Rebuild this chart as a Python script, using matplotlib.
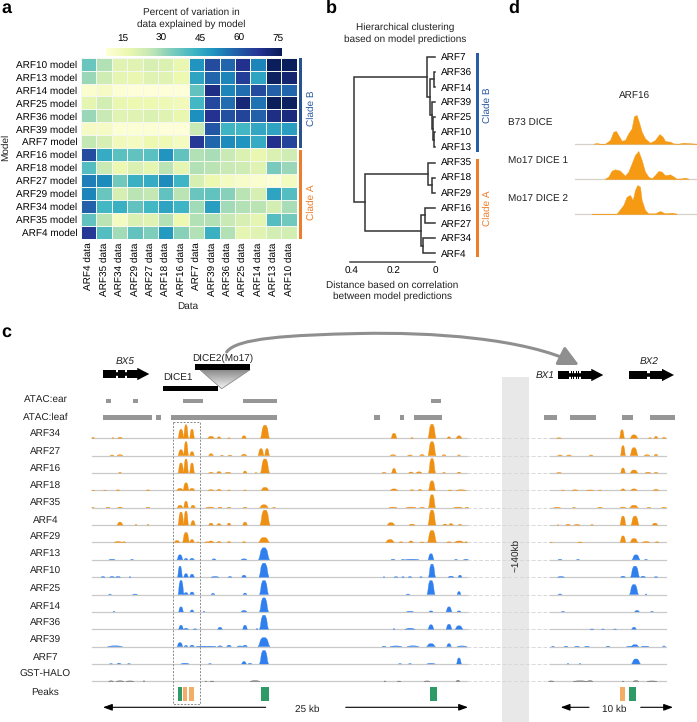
import numpy as np
import matplotlib
matplotlib.use("Agg")
import matplotlib.pyplot as plt
from matplotlib.patches import Rectangle, Polygon, FancyArrowPatch
from matplotlib.path import Path

plt.rcParams["font.family"] = ["Liberation Sans", "DejaVu Sans"]
plt.rcParams["text.color"] = "#222222"
plt.rcParams["text.hinting"] = "no_hinting"
plt.rcParams["text.hinting_factor"] = 1
W, H = 697, 722
FS = 6.85

# panel a: percent of variation explained
data_labels = ["ARF4", "ARF35", "ARF34", "ARF29", "ARF27", "ARF18", "ARF16",
               "ARF7", "ARF39", "ARF36", "ARF25", "ARF14", "ARF13", "ARF10"]
model_labels = ["ARF10", "ARF13", "ARF14", "ARF25", "ARF36", "ARF39", "ARF7",
                "ARF16", "ARF18", "ARF27", "ARF29", "ARF34", "ARF35", "ARF4"]
variation = np.array([
    [37, 28, 20, 20, 22, 21, 18, 50, 63, 58, 69, 53, 76, 76],
    [31, 24, 19, 18, 20, 20, 17, 47, 58, 53, 66, 47, 75, 73],
    [11, 13, 10, 9, 9, 9, 9, 38, 70, 53, 57, 63, 59, 58],
    [19, 23, 18, 17, 17, 16, 15, 42, 64, 57, 72, 56, 76, 75],
    [31, 25, 20, 20, 21, 20, 18, 51, 68, 62, 65, 59, 70, 71],
    [13, 13, 10, 10, 10, 9, 9, 25, 61, 43, 42, 46, 47, 48],
    [26, 22, 15, 14, 17, 16, 14, 67, 58, 52, 50, 45, 69, 65],
    [63, 45, 39, 38, 39, 50, 38, 28, 29, 25, 21, 18, 21, 24],
    [40, 25, 17, 21, 19, 27, 19, 28, 27, 25, 24, 20, 35, 31],
    [54, 52, 36, 44, 45, 52, 43, 22, 17, 14, 12, 11, 10, 14],
    [53, 37, 22, 27, 26, 38, 27, 37, 38, 33, 27, 22, 47, 40],
    [59, 42, 44, 38, 42, 47, 43, 30, 48, 30, 28, 27, 23, 29],
    [38, 27, 14, 21, 20, 28, 17, 28, 28, 25, 22, 19, 40, 36],
    [67, 40, 30, 38, 34, 49, 33, 28, 44, 28, 19, 20, 23, 23],
])
cbar_ticks = [15, 30, 45, 60, 75]

# panel b: leaves and merges (child a, child b, distance)
leaves = ["ARF7", "ARF36", "ARF14", "ARF39", "ARF25", "ARF10", "ARF13",
          "ARF35", "ARF18", "ARF29", "ARF16", "ARF27", "ARF34", "ARF4"]
merges = [("ARF36", "ARF14", 0.005), ("ARF10", "ARF13", 0.006),
          ("ARF25", "n1", 0.008), ("ARF39", "n2", 0.016),
          ("n0", "n3", 0.024), ("ARF7", "n4", 0.040),
          ("ARF18", "ARF29", 0.016), ("ARF35", "n6", 0.035),
          ("ARF16", "ARF27", 0.048), ("ARF34", "ARF4", 0.060),
          ("n8", "n9", 0.067), ("n7", "n10", 0.339), ("n5", "n11", 0.392)]

# panel d: ARF16 signal at the DICE locus
d_pos_b73 = [790, 800, 810, 825, 840, 850, 858, 865, 875, 885, 895, 905, 912, 920, 928, 935,
             945, 960, 975, 988, 998, 1005, 1020, 1030, 1045, 1060, 1085, 1100]
d_sig_b73 = [0, 2, 0, 0, 11, 36, 38, 26, 9, 11, 31, 46, 83, 86, 61, 36,
             16, 3, 11, 29, 21, 8, 6, 1, 0, 3, 1, 0]
d_pos_mo1 = [825, 835, 845, 855, 870, 885, 895, 905, 915, 925, 935, 945,
             955, 965, 975, 985, 995, 1005, 1020, 1030, 1040, 1055, 1065, 1075]
d_sig_mo1 = [1, 7, 25, 29, 25, 10, 22, 47, 72, 84, 57, 22,
             7, 2, 12, 24, 22, 11, 14, 8, 1, 2, 4, 1]
d_pos_mo2 = [785, 800, 860, 870, 880, 890, 900, 908, 915, 922, 930, 935,
             945, 955, 975, 990, 1005, 1025, 1040]
d_sig_mo2 = [1, 1, 1, 14, 27, 52, 57, 42, 72, 87, 82, 42,
             12, 2, 2, 9, 2, 4, 1]

# panel c: ATAC intervals and peak calls (start, end)
atac_ear = [(106, 111), (133.3, 138.3), (183.3, 202.7), (243, 276.7), (430.7, 441)]
atac_leaf = [(103.3, 151.7), (156.3, 161.3), (171, 276.7), (374.3, 379.7), (400, 404.3),
             (414, 442), (544, 557), (569.7, 596.3), (621.7, 632.7), (650, 674.7)]
peaks_green = [(178, 181.7), (260.7, 268.7), (430, 436.7), (629, 635.7)]
peaks_orange = [(183, 187), (189, 193.7), (620.3, 625)]

# panel c: signal tracks as (centre, width, height)
ARF34 = [(93, 3, 1), (113, 2, .7), (120, 5, 1), (181, 6, 9), (186, 5, 13.5), (192, 5, 9), (211, 7, 2), (219, 4, 1.5),
         (229, 3, .5), (244, 5, 2.5), (265, 9, 13), (394, 6, 5), (412, 3, .7), (432, 8, 14), (449, 4, 1.5), (459, 6, 2.5),
         (559, 5, .5), (622, 5, 8.5), (634, 8, 3.5), (650, 3, .7), (656, 4, 2), (664, 4, 1)]
ARF27 = [(112, 4, .7), (120, 6, 1), (181, 6, 6), (186, 5, 14), (192, 5, 4), (211, 5, 2), (222, 3, .5), (230, 4, .5),
         (244, 6, 1.5), (261, 6, 7), (267, 5, 7), (393, 6, 1), (410, 5, .7), (422, 5, 1.2), (432, 8, 14), (444, 4, 1),
         (459, 3, .8), (560, 5, .7), (569, 5, .7), (591, 4, .7), (623, 5, 10), (634, 8, 8), (647, 6, 1), (656, 4, 1.5)]
ARF16 = [(120, 3, .7), (181, 6, 10), (186, 5, 14), (192, 5, 10), (211, 5, .7), (219, 5, 1.5), (228, 6, .7), (245, 4, 2),
         (256, 2, .5), (265, 9, 14), (384, 4, .7), (394, 5, 4.5), (411, 5, 1), (419, 6, 1.2), (432, 7, 14.5), (444, 3, .6),
         (459, 4, .8), (559, 5, .5), (623, 5, 5), (634, 8, 3), (648, 6, .7), (656, 4, .7)]
ARF18 = [(93, 3, .3), (105, 3, .3), (118, 4, .5), (148, 4, .5), (180, 7, 2), (186, 6, 7.5), (192, 6, 2), (211, 6, .7),
         (219, 5, 1), (229, 3, .4), (245, 3, .4), (265, 8, 3), (394, 8, 1.5), (412, 4, .7), (420, 4, 1), (432, 7, 9.5),
         (450, 4, .4), (461, 10, .6), (563, 3, .3), (575, 6, .6), (590, 8, .4), (600, 3, .4), (623, 5, 1.5), (634, 7, 1.5), (656, 6, 1)]
ARF35 = [(93, 3, .3), (108, 4, .5), (120, 5, .7), (148, 4, .5), (180, 6, 2.5), (186, 5, 6.5), (193, 5, 2.5), (210, 8, .7),
         (220, 4, .7), (229, 4, .5), (245, 4, .5), (264, 9, 3), (274, 3, .5), (393, 8, .7), (411, 10, .7), (422, 5, .5),
         (432, 7, 13), (458, 9, .7), (467, 4, .5), (557, 7, .5), (574, 3, .5), (600, 5, .5), (623, 6, .7), (634, 9, 2.5),
         (649, 4, .5), (664, 5, .5)]
ARF4 = [(120, 6, 3), (136, 2, .7), (148, 2, .7), (181, 6, 13), (186, 5, 14), (193, 5, 4.5), (211, 5, 2), (219, 5, 1.5),
        (229, 4, 2), (245, 5, 3), (265, 10, 15), (391, 8, 2.5), (412, 6, 1), (432, 8, 15), (445, 5, 1), (451, 5, 1.5),
        (460, 4, .7), (558, 2, .3), (568, 5, .8), (577, 6, .7), (592, 3, .5), (623, 6, 9), (635, 8, 9), (655, 6, 2)]
ARF29 = [(118, 8, 1), (124, 4, .7), (177, 6, 2), (186, 7, 10), (192, 5, 3), (198, 3, .5), (207, 5, .7), (211, 6, 1.5),
         (219, 5, 1), (229, 4, 1), (244, 4, .8), (264, 11, 5), (390, 9, 3), (401, 4, .7), (411, 5, 1.5), (422, 4, .5),
         (432, 9, 12), (449, 5, .7), (459, 10, 1.5), (466, 3, .7), (551, 3, .3), (580, 5, .5), (623, 6, 6.5), (634, 8, 4),
         (646, 8, 1), (657, 4, .7)]
ARF13 = [(112, 6, .5), (132, 3, .4), (180, 6, 5), (186, 4, 1.5), (192, 5, 1.5), (214, 4, 1), (244, 6, 1), (264, 11, 12),
         (393, 4, .5), (403, 3, .5), (412, 14, .5), (431, 6, 6), (456, 3, .4), (466, 5, .5), (560, 4, .4), (578, 3, .4),
         (636, 8, 5), (646, 3, .4)]
ARF10 = [(103, 4, .7), (112, 5, .7), (118, 5, .7), (130, 2, .5), (180, 5, 11), (186, 5, 3.5), (192, 5, 3), (215, 8, .7),
         (230, 4, .7), (244, 5, 2), (264, 10, 14), (384, 2, .4), (396, 4, .5), (403, 3, .5), (410, 4, .6), (421, 3, .5),
         (432, 7, 13), (451, 6, 1), (460, 4, 2), (561, 7, .7), (623, 5, 1), (635, 9, 11), (643, 5, 1), (656, 4, .5)]
ARF25 = [(110, 3, .5), (135, 5, .5), (181, 6, 14), (186, 5, 2), (192, 5, 2.5), (213, 4, 1.2), (245, 4, 1.5), (264, 9, 14),
         (408, 4, .5), (431, 8, 14), (459, 4, 3), (560, 4, .6), (634, 9, 10), (646, 2, .6)]
ARF14 = [(114, 2, .5), (181, 5, 5), (192, 4, 2), (204, 2, .4), (244, 6, 1.5), (264, 9, 14), (410, 7, .5), (431, 4, 1),
         (449, 6, 5), (459, 4, 1), (563, 3, .5), (637, 5, 1.5), (652, 3, .4)]
ARF36 = [(181, 5, 4), (186, 5, 1), (195, 4, .4), (220, 5, 2), (245, 5, 4), (257, 2, .7), (264, 9, 14), (394, 2, .6),
         (410, 10, 1), (431, 6, 4.5), (449, 6, 5), (459, 8, 3.5), (592, 4, .3), (603, 3, .3), (615, 3, .3), (634, 5, 2)]
ARF39 = [(115, 15, .8), (180, 6, 4), (186, 4, 1.2), (192, 5, 1.5), (201, 10, .5), (210, 12, .5), (220, 5, .8), (229, 5, 1.5),
         (240, 6, .7), (245, 5, 1.5), (264, 12, 9), (384, 4, .5), (396, 12, .7), (413, 12, .8), (431, 9, 3), (449, 5, 3),
         (462, 10, .7), (553, 3, .4), (566, 4, .5), (577, 5, .5), (587, 5, .5), (608, 4, .4), (630, 7, .5), (635, 8, 2),
         (645, 8, .5), (664, 3, .7)]
ARF7 = [(111, 3, .3), (119, 4, .7), (129, 3, .3), (185, 8, .7), (210, 3, .3), (244, 5, 2.5), (250, 4, .5), (264, 9, 13.5),
        (400, 3, .3), (410, 3, .3), (431, 8, .5), (459, 5, 6), (568, 2, .3), (580, 2, .3), (636, 9, 5)]
GST_HALO = [(111, 5, .5), (120, 8, .5), (130, 8, .4), (144, 2, .5), (206, 2, .3), (212, 4, .3), (255, 10, .7), (385, 2, .4),
            (399, 4, .3), (427, 6, .4), (458, 4, 1), (551, 6, .4), (580, 14, .5), (590, 6, .7), (623, 2, .3), (636, 6, .7), (652, 10, .4)]

ORANGE, BLUE, DARK = "#ef9012", "#2f7fee", "#666666"
track_names = ["ARF34", "ARF27", "ARF16", "ARF18", "ARF35", "ARF4", "ARF29", "ARF13",
               "ARF10", "ARF25", "ARF14", "ARF36", "ARF39", "ARF7", "GST-HALO"]
track_peaks = [ARF34, ARF27, ARF16, ARF18, ARF35, ARF4, ARF29, ARF13,
               ARF10, ARF25, ARF14, ARF36, ARF39, ARF7, GST_HALO]
track_colors = [ORANGE] * 7 + [BLUE] * 7 + [DARK]

fig = plt.figure(figsize=(W / 100, H / 100), dpi=100)


def px_axes(x0, y0, x1, y1, **kw):
    # axes placed by pixel box, y measured from the top
    return fig.add_axes([x0 / W, 1 - y1 / H, (x1 - x0) / W, (y1 - y0) / H], **kw)


# full-figure overlay for annotations and panel c
ov = px_axes(0, 0, W, H, zorder=0)
ov.set_xlim(0, W)
ov.set_ylim(H, 0)
ov.axis("off")


def label(x, y, s, **kw):
    kw.setdefault("fontsize", FS)
    kw.setdefault("ha", "center")
    kw.setdefault("va", "center")
    ov.text(x, y, s, **kw)


for s, x, y in [("a", 1, 8), ("b", 326, 8), ("d", 508, 8), ("c", 1, 332)]:
    label(x, y, s, fontsize=13, fontweight="bold", ha="left", color="black")

# --- panel a
ax_a = px_axes(81, 57.7, 296.7, 238.7, zorder=2)
vmin, vmax = 8.5, 76.5
mesh = ax_a.pcolormesh(variation, cmap="YlGnBu", vmin=vmin, vmax=vmax, edgecolors="#f4f6f0", linewidth=0.45)
ax_a.set_ylim(len(model_labels), 0)
ax_a.set_xticks(np.arange(len(data_labels)) + 0.5)
ax_a.set_xticklabels([f"{d} data" for d in data_labels], rotation=90)
ax_a.set_yticks(np.arange(len(model_labels)) + 0.5)
ax_a.set_yticklabels([f"{m} model" for m in model_labels])
ax_a.tick_params(length=0, pad=2.5, labelsize=FS)
for sp in ax_a.spines.values():
    sp.set_visible(False)

cax = px_axes(106, 47.6, 282, 55.7, zorder=2)
cb = fig.colorbar(mesh, cax=cax, orientation="horizontal", ticks=cbar_ticks)
cb.outline.set_visible(False)
cb.solids.set_edgecolor("face")
cax.xaxis.set_ticks_position("top")
cax.tick_params(length=0, pad=3.5, labelsize=FS)

label(191.7, 12.3, "Percent of variation in")
label(191.7, 24.3, "data explained by model")
label(5.5, 147.7, "Model", rotation=90)
label(188, 306.7, "Data")
CLADE_B, CLADE_A = "#2a5ba5", "#ee7d2b"
ov.add_patch(Rectangle((298.5, 57.7), 3, 90, color="#27518f", lw=0))
ov.add_patch(Rectangle((298.5, 149.5), 3, 89.2, color=CLADE_A, lw=0))
label(311, 108, "Clade B", rotation=90, color=CLADE_B)
label(311, 202, "Clade A", rotation=90, color=CLADE_A)

# --- panel b
ax_b = px_axes(350, 56.7, 435, 253.3, zorder=2)
ax_b.set_xlim((435 - 350) / 207.5, 0)
ax_b.set_ylim(len(leaves) - 1, 0)
node_y = {name: float(i) for i, name in enumerate(leaves)}
node_h = {name: 0.0 for name in leaves}
for i, (a, b, h) in enumerate(merges):
    ax_b.plot([node_h[a], h, h, node_h[b]], [node_y[a], node_y[a], node_y[b], node_y[b]],
              color="#333333", lw=1.1, clip_on=False, solid_joinstyle="miter")
    node_y[f"n{i}"] = (node_y[a] + node_y[b]) / 2
    node_h[f"n{i}"] = h
ax_b.set_xticks([0.4, 0.2, 0])
ax_b.set_xticklabels(["0.4", "0.2", "0"])
ax_b.yaxis.tick_right()
ax_b.set_yticks(range(len(leaves)))
ax_b.set_yticklabels(leaves)
ax_b.tick_params(length=0, labelsize=FS)
ax_b.tick_params(axis="y", pad=4)
ax_b.tick_params(axis="x", pad=3.5)
for side in ["top", "left", "right"]:
    ax_b.spines[side].set_visible(False)
ax_b.spines["bottom"].set_position(("outward", 6.3))
ax_b.spines["bottom"].set_color("#444444")
ax_b.spines["bottom"].set_linewidth(1.1)
ax_b.patch.set_alpha(0)

label(404.7, 27.3, "Hierarchical clustering")
label(404.7, 39.3, "based on model predictions")
label(392, 285, "Distance based on correlation")
label(392, 296.7, "between model predictions")
ov.add_patch(Rectangle((476.3, 53), 3, 99, color=CLADE_B, lw=0))
ov.add_patch(Rectangle((476.3, 159), 3, 98, color=CLADE_A, lw=0))
label(487.7, 105, "Clade B", rotation=90, color=CLADE_B)
label(487.7, 208, "Clade A", rotation=90, color=CLADE_A)

# --- panel d
label(634.7, 96, "ARF16")
d_series = [("B73 DICE", 123, 143.7, d_pos_b73, d_sig_b73), ("Mo17 DICE 1", 161, 179, d_pos_mo1, d_sig_mo1),
            ("Mo17 DICE 2", 199.5, 214, d_pos_mo2, d_sig_mo2)]
for name, ly, base, pos, sig in d_series:
    label(508, ly, name, ha="left")
    ax = px_axes(575, base - 32, 697, base, zorder=2)
    ax.fill_between(pos, sig, 0, color="#f59a12", lw=0.3)
    ax.set_xlim(735, 1101)
    ax.set_ylim(0, 96)
    ax.axis("off")
    ov.plot([575, 697], [base, base], color="#d5d0c8", lw=0.9)

# --- panel c
ov.add_patch(Rectangle((502.3, 377), 26.4, H - 377, color="#e8e8e8", lw=0, zorder=0))
label(515.7, 555, "~140kb", rotation=90)

for start, end in atac_ear:
    ov.add_patch(Rectangle((start, 398.8), end - start, 4.6, color="#969696", lw=0))
for start, end in atac_leaf:
    ov.add_patch(Rectangle((start, 415.2), end - start, 5, color="#969696", lw=0))
label(45.5, 400.7, "ATAC:ear")
label(45.5, 417.3, "ATAC:leaf")

peak_x = np.array([-1, -.82, -.58, -.28, .28, .58, .82, 1])
peak_y = np.array([0, .2, .75, 1, 1, .75, .2, 0])
for i, (name, peaks, color) in enumerate(zip(track_names, track_peaks, track_colors)):
    base = 438.3 + i * 17.36
    label(45.5, 434.7 + i * 17.13, name)
    ov.plot([92, 467], [base, base], color="#c9c9c9", lw=0.9, zorder=1)
    ov.plot([467, 550], [base, base], color="#d8d8d8", lw=0.7, ls=(0, (4, 2)), zorder=1)
    ov.plot([550, 666], [base, base], color="#c9c9c9", lw=0.9, zorder=1)
    for centre, width, height in peaks:
        ov.fill(centre + peak_x * width / 2, base - peak_y * height, color=color, lw=0.2, zorder=2)

label(45.5, 692.3, "Peaks")
for start, end in peaks_green:
    ov.add_patch(Rectangle((start, 686.7), end - start, 14, color="#2e9a68", lw=0))
for start, end in peaks_orange:
    ov.add_patch(Rectangle((start, 686.7), end - start, 14, color="#f4ad66", lw=0))
ov.add_patch(Rectangle((173.3, 421.7), 27, 282.3, fill=False, ec="#8a8a8a", lw=0.7, ls=(0, (2, 1.5)), zorder=3))


# scale arrows
def scale_arrow(x0, x1, y=707.3):
    ov.annotate("", xy=(x1, y), xytext=(x0, y), arrowprops=dict(arrowstyle="-|>,head_length=0.55,head_width=0.2",
                color="black", lw=0.8, shrinkA=0, shrinkB=0))


scale_arrow(265.7, 103)
scale_arrow(345.7, 468)
scale_arrow(589, 560.7)
scale_arrow(640.7, 673)
label(307, 709, "25 kb")
label(614, 709, "10 kb")


# genes: intron line, exons, arrow head
def gene(x0, x1, y, exons):
    ov.plot([x0, x1 - 10], [y, y], color="black", lw=2.6, solid_capstyle="butt")
    for e0, e1 in exons:
        ov.add_patch(Rectangle((e0, y - 4), e1 - e0, 8, color="black", lw=0))
    ov.add_patch(Polygon([(x1 - 12, y - 6.2), (x1, y), (x1 - 12, y + 6.2)], color="black", lw=0))


gene(103.3, 149.3, 374, [(103.3, 116), (118, 125), (127, 138)])
gene(558.3, 603.3, 375, [(558.3, 569), (570.5, 571.5), (573, 574), (575.5, 576.5), (578, 579), (580.5, 593)])
gene(629.3, 674, 375, [(629.3, 647), (650, 662)])
label(125.3, 361, "BX5", style="italic")
label(544.7, 375, "BX1", style="italic")
label(649.3, 361.7, "BX2", style="italic")

# DICE bars and the insertion wedge
ov.add_patch(Rectangle((162.7, 385.5), 55.3, 5.6, color="black", lw=0, zorder=3))
ov.add_patch(Rectangle((195.3, 364.2), 55, 5.6, color="black", lw=0, zorder=3))
label(178, 378.7, "DICE1")
label(222.7, 358, "DICE2(Mo17)")
wedge = Polygon([(200, 369.8), (250, 369.8), (221.7, 388.7)], fc="none", ec="#8c8c8c", lw=0.6, zorder=2)
ov.add_patch(wedge)
grad = ov.imshow(np.linspace(0.55, 0.96, 32).reshape(-1, 1), cmap="gray", vmin=0, vmax=1, aspect="auto",
                 extent=(200, 250, 388.7, 369.8), zorder=1)
grad.set_clip_path(wedge)
ov.set_xlim(0, W)
ov.set_ylim(H, 0)

# long-range interaction arrow
curve = Path([(226.7, 352), (236, 338), (290, 335), (360, 333.5), (430, 332), (525, 338), (579, 365)],
             [Path.MOVETO, Path.CURVE4, Path.CURVE4, Path.CURVE4, Path.CURVE4, Path.CURVE4, Path.CURVE4])
ov.add_patch(FancyArrowPatch(path=curve, arrowstyle="-|>,head_length=1.5,head_width=0.75", mutation_scale=8,
                             color="#8f8f8f", lw=2.2, zorder=3))

fig.savefig("out.png", dpi=100)
